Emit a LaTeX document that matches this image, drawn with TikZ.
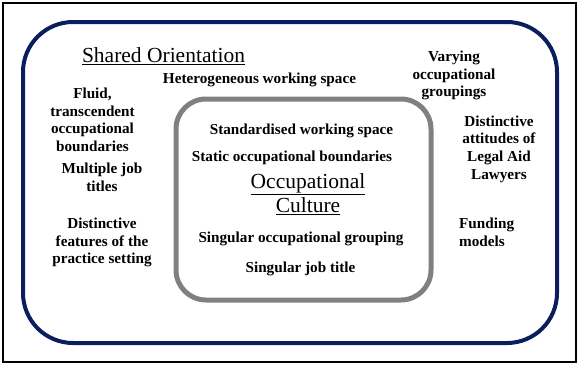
\documentclass[tikz,border=0pt]{standalone}
\usepackage{fontspec}
\setmainfont{Liberation Serif}
\definecolor{navyline}{HTML}{0A1E5E}
\definecolor{grayline}{HTML}{808080}
\tikzset{
  lbl/.style={inner sep=0pt, align=center, font=\fontsize{15.2}{17.6}\selectfont\bfseries},
  ttl/.style={inner sep=0pt, align=center, font=\fontsize{21.5}{24.5}\selectfont},
  outerbox/.style={draw=navyline, line width=4pt, rounded corners=50pt},
  innerbox/.style={draw=grayline, line width=5pt, rounded corners=30pt},
  frame/.style={draw=black, line width=2pt}
}
\begin{document}
\begin{tikzpicture}[x=1pt,y=-1pt]
\useasboundingbox (0,0) rectangle (578,364);
\draw[frame] (2.5,2.5) rectangle (575.5,361.5);
\draw[outerbox] (23,22) rectangle (557,343);
\draw[innerbox] (176,99) rectangle (431,300);

\node[ttl] (shared) at (163.5,56) {\underline{Shared Orientation}};
\node[lbl] (hetero) at (259.5,80) {Heterogeneous working space};
\node[lbl] (varying) at (454,75.5) {Varying\\occupational\\groupings};
\node[lbl] (fluid) at (92.5,120) {Fluid,\\transcendent\\occupational\\boundaries};
\node[lbl] (multiple) at (102,177) {Multiple job\\titles};
\node[lbl] (features) at (102,242.5) {Distinctive\\features of the\\practice setting};
\node[lbl] (attitudes) at (499,149) {Distinctive\\attitudes of\\Legal Aid\\Lawyers};
\node[lbl, anchor=west, align=left] (funding) at (459,232.5) {Funding\\models};

\node[lbl] (standard) at (301.5,130.5) {Standardised working space};
\node[lbl] (static) at (292,157.5) {Static occupational boundaries};
\node[ttl] (culture) at (308,194) {\underline{Occupational}\\\underline{Culture}};
\node[lbl] (grouping) at (301,238.5) {Singular occupational grouping};
\node[lbl] (jobtitle) at (300.5,268.5) {Singular job title};
\end{tikzpicture}
\end{document}
